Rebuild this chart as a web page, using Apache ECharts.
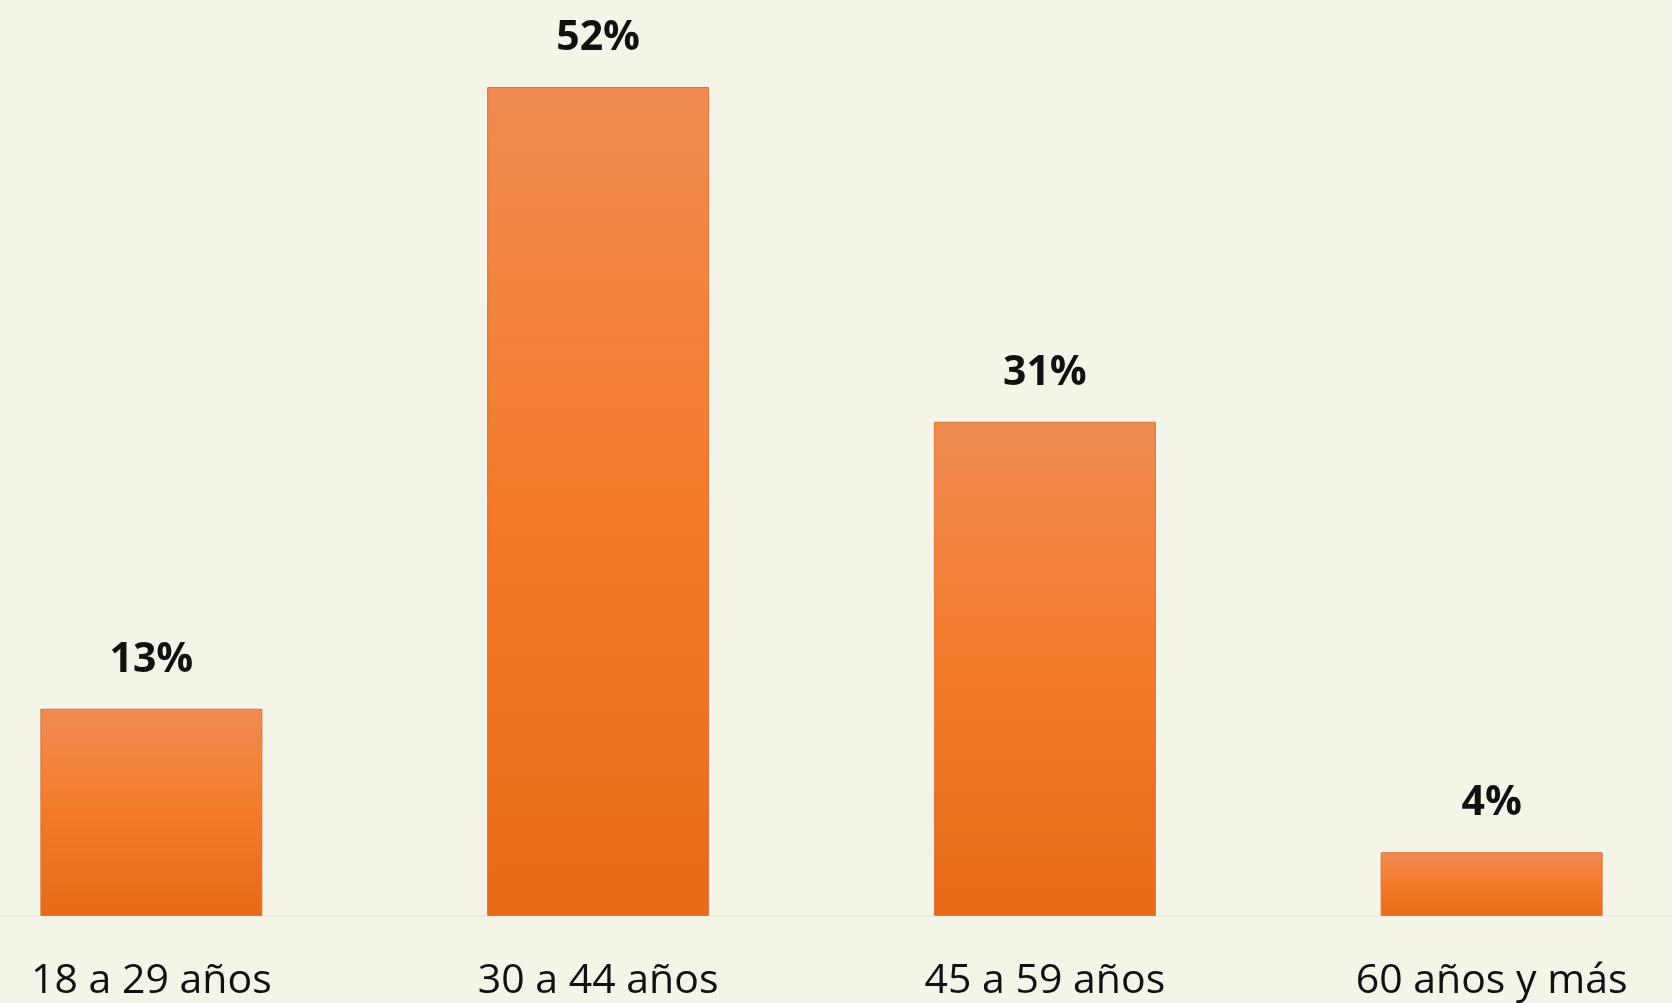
<!DOCTYPE html>
<html>
<head>
<meta charset="utf-8">
<script src="https://cdn.jsdelivr.net/npm/echarts@6/dist/echarts.min.js"></script>
<style>
  html, body { margin: 0; padding: 0; background: #f4f4e8; overflow: hidden; }
  #chart { width: 1787px; height: 1003px; margin-left: -72px; }
</style>
</head>
<body>
<div id="chart"></div>
<script>
const categories = ['18 a 29 años', '30 a 44 años', '45 a 59 años', '60 años y más'];
const values = [13, 52, 31, 4];

const chart = echarts.init(document.getElementById('chart'));

chart.setOption({
  backgroundColor: '#f4f4e8',
  animation: false,
  grid: { left: 0, right: 0, top: 87, bottom: 87 },
  xAxis: {
    type: 'category',
    data: categories,
    axisLine: { lineStyle: { color: '#ecebdd', width: 2 } },
    axisTick: { show: false },
    axisLabel: {
      color: '#111',
      fontFamily: 'Open Sans',
      fontSize: 41,
      margin: 45,
      interval: 0
    }
  },
  yAxis: {
    type: 'value',
    min: 0,
    max: 52,
    show: false,
    splitLine: { show: false }
  },
  series: [{
    type: 'bar',
    data: values,
    barWidth: 222,
    itemStyle: {
      borderColor: '#d8763c',
      borderWidth: 1,
      color: new echarts.graphic.LinearGradient(0, 0, 0, 1, [
        { offset: 0, color: '#ef8b52' },
        { offset: 0.5, color: '#f37b2b' },
        { offset: 1, color: '#e66a18' }
      ])
    },
    label: {
      show: true,
      position: 'top',
      distance: 28,
      formatter: '{c}%',
      color: '#111',
      fontFamily: 'Open Sans',
      fontWeight: 'bold',
      fontSize: 41
    }
  }]
});
</script>
</body>
</html>
